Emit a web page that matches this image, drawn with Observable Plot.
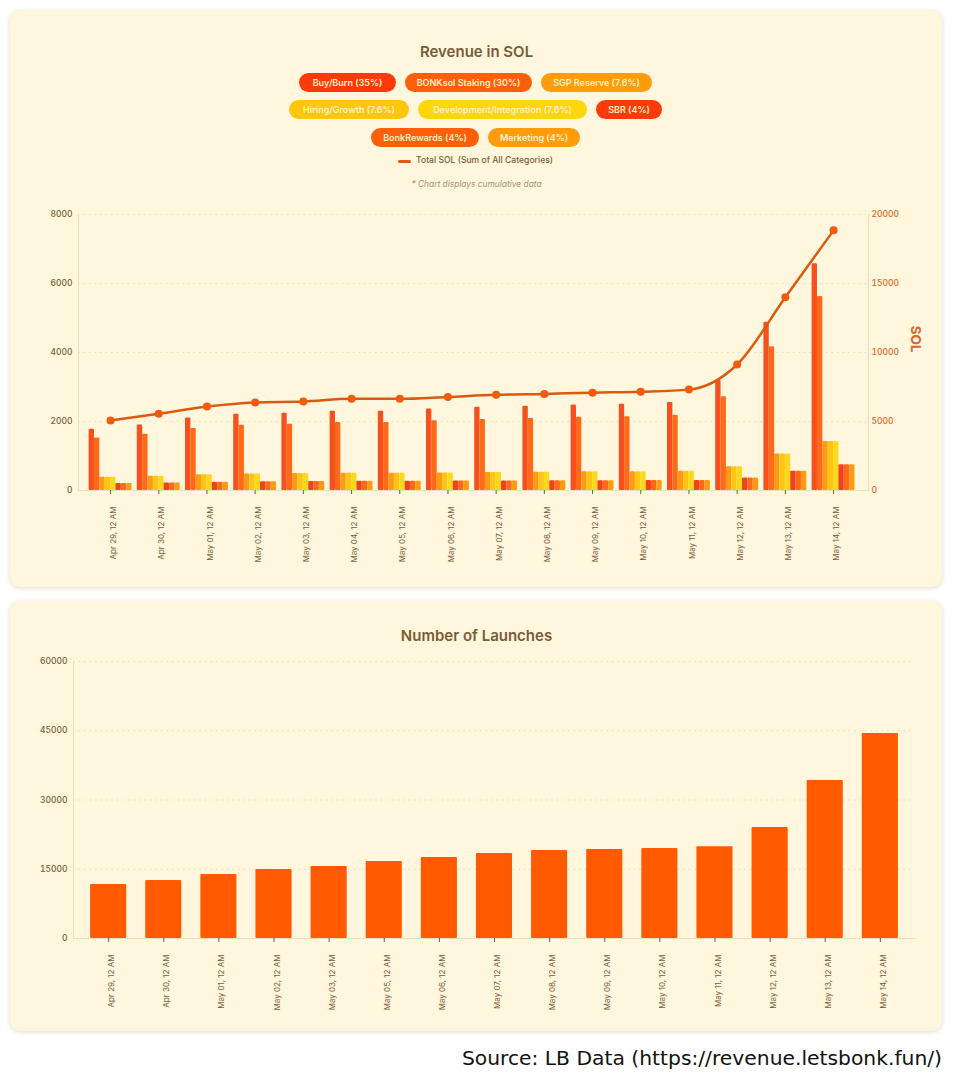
<!DOCTYPE html>
<html><head><meta charset="utf-8">
<script src="https://cdn.jsdelivr.net/npm/d3@7"></script>
<script src="https://cdn.jsdelivr.net/npm/@observablehq/plot@0.6"></script>
<style>
html,body{margin:0;padding:0;background:#fff;width:953px;height:1080px;overflow:hidden;font-family:Inter,sans-serif}
.card{position:absolute;left:10px;width:932px;background:#FEF7DD;border-radius:10px;box-shadow:0 1px 5px rgba(150,120,60,.28)}
.title{position:absolute;left:0;width:953px;text-align:center;font:600 15px Inter,sans-serif;color:#7B5B37}
.row{position:absolute;left:-1px;width:953px;display:flex;justify-content:center;gap:9px}
.pill{height:19px;border-radius:10px;text-align:center;font:600 9px/19px Inter,sans-serif;color:#FFF1C8;white-space:nowrap}
.abs{position:absolute}
svg{position:absolute;left:0;background:transparent!important}
</style></head><body>
<div class="card" style="top:10px;height:577px"></div>
<div class="card" style="top:601px;height:430px"></div>
<div class="title" style="top:42px">Revenue in SOL</div>
<div class="title" style="top:626px">Number of Launches</div>
<div id="legend"></div>
<div class="abs" style="left:398px;top:160px;width:13px;height:3px;border-radius:2px;background:#D95A10"></div>
<div class="abs" style="left:416px;top:155px;font:500 8.6px Inter,sans-serif;color:#7B5B37">Total SOL (Sum of All Categories)</div>
<div class="title" style="top:179px;font:italic 400 8.4px Inter,sans-serif;color:#A8926E">* Chart displays cumulative data</div>
<div class="abs" style="right:11px;top:1046px;font:400 20.3px 'DejaVu Sans',sans-serif;color:#111;white-space:nowrap">Source: LB Data (https://revenue.letsbonk.fun/)</div>
<script>
const dates = ["Apr 29, 12 AM","Apr 30, 12 AM","May 01, 12 AM","May 02, 12 AM","May 03, 12 AM","May 04, 12 AM","May 05, 12 AM","May 06, 12 AM","May 07, 12 AM","May 08, 12 AM","May 09, 12 AM","May 10, 12 AM","May 11, 12 AM","May 12, 12 AM","May 13, 12 AM","May 14, 12 AM"];
const buyBurn = [1775,1900,2100,2210,2240,2300,2300,2360,2410,2440,2480,2500,2550,3190,4880,6570];
const bonksol = [1520,1630,1800,1890,1920,1970,1970,2020,2060,2090,2120,2140,2180,2720,4170,5620];
const sgp = [385,415,455,480,490,500,500,510,525,530,540,545,555,690,1060,1420];
const hiring = [385,415,455,480,490,500,500,510,525,530,540,545,555,690,1060,1420];
const development = [385,415,455,480,490,500,500,510,525,530,540,545,555,690,1060,1420];
const sbr = [200,220,240,255,258,265,265,272,278,280,285,288,292,365,555,750];
const bonkRewards = [200,220,240,255,258,265,265,272,278,280,285,288,292,365,555,750];
const marketing = [200,220,240,255,258,265,265,272,278,280,285,288,292,365,555,750];
const totalSol = [5070,5560,6080,6380,6450,6640,6640,6780,6930,7000,7090,7160,7310,9130,14000,18850];
const launchDates = ["Apr 29, 12 AM","Apr 30, 12 AM","May 01, 12 AM","May 02, 12 AM","May 03, 12 AM","May 05, 12 AM","May 06, 12 AM","May 07, 12 AM","May 08, 12 AM","May 09, 12 AM","May 10, 12 AM","May 11, 12 AM","May 12, 12 AM","May 13, 12 AM","May 14, 12 AM"];
const launches = [11700,12560,13860,14950,15600,16680,17550,18410,19060,19280,19500,19900,24040,34200,44400];
const seriesValues = [buyBurn,bonksol,sgp,hiring,development,sbr,bonkRewards,marketing];
const seriesColors = ["#F4511E","#FF6A1A","#FF9A14","#FFC515","#FFD81E","#F0431C","#FF6A1A","#FF9A14"];
const legendRows = [
 [["Buy/Burn (35%)",97,"#FF3A0A"],["BONKsol Staking (30%)",127,"#FF5F0A"],["SGP Reserve (7.6%)",111,"#FF9C0C"]],
 [["Hiring/Growth (7.6%)",120,"#FFC60A"],["Development/Integration (7.6%)",169,"#FFD60A"],["SBR (4%)",66,"#FF3A0A"]],
 [["BonkRewards (4%)",108,"#FF5F0A"],["Marketing (4%)",92,"#FF9C0C"]]
];
const leftTicks = [0,2000,4000,6000,8000];
const launchTicks = [0,15000,30000,45000,60000];
const solPerRevenueUnit = 2.5;
const brown = "#7B5B37", gridC = "#E9DFBE", axisOrange = "#D9682A";

legendRows.forEach((row,ri)=>{
  const el = document.createElement("div");
  el.className = "row"; el.style.top = [73,100,128][ri]+"px";
  row.forEach(([t,w,c])=>{
    const p = document.createElement("div");
    p.className = "pill"; p.textContent = t;
    p.style.width = w+"px"; p.style.background = c;
    el.appendChild(p);
  });
  document.getElementById("legend").appendChild(el);
});

const chartStyle = {fontFamily:"Inter,sans-serif",fontSize:"8.5px",background:"transparent",overflow:"visible"};

const B = 42.9; // grouped-bar band width in pixels
const barMarks = seriesValues.map((vals,i)=>Plot.barY(dates,{
  x:d=>d, y:(d,j)=>vals[j], fill:seriesColors[i], rx:1,
  insetLeft:i*B/8, insetRight:(7-i)*B/8
}));
const xAxes = () => [
  Plot.axisX({tickSize:4,text:null,stroke:brown,label:null}),
  Plot.axisX({tickRotate:-90,tickSize:0,tickPadding:16,dx:3,fill:brown,fontSize:8,label:null,textAnchor:"end"})
];

const chart1 = Plot.plot({
  width:953, height:390, marginLeft:78, marginRight:85, marginTop:14, marginBottom:100,
  style:chartStyle,
  x:{domain:dates,type:"band",paddingInner:0.11,paddingOuter:0.25,align:0.44,round:false,label:null},
  y:{domain:[0,8000],label:null},
  marks:[
    Plot.gridY(leftTicks,{stroke:gridC,strokeOpacity:1,strokeDasharray:"1.5 4"}),
    Plot.frame({anchor:"left",stroke:gridC}),
    Plot.frame({anchor:"right",stroke:gridC}),
    Plot.frame({anchor:"bottom",stroke:gridC}),
    ...barMarks,
    Plot.line(dates,{x:d=>d,y:(d,i)=>totalSol[i]/solPerRevenueUnit,stroke:"#D95A10",strokeWidth:2.5,curve:"monotone-x"}),
    Plot.dot(dates,{x:d=>d,y:(d,i)=>totalSol[i]/solPerRevenueUnit,fill:"#F55A0A",r:4}),
    ...xAxes(),
    Plot.axisY({ticks:leftTicks,tickSize:0,tickPadding:6,fill:brown,fontWeight:500,tickFormat:d=>String(d),label:null}),
    Plot.axisY({anchor:"right",ticks:leftTicks,tickSize:0,tickPadding:3,fill:axisOrange,fontWeight:500,tickFormat:d=>String(d*solPerRevenueUnit),label:null}),
    Plot.text(["SOL"],{frameAnchor:"right",dx:47,rotate:90,fill:axisOrange,fontWeight:700,fontSize:13.5})
  ]
});
chart1.style.top = "200px";
document.body.appendChild(chart1);

const chart2 = Plot.plot({
  width:953, height:390, marginLeft:73, marginRight:38, marginTop:20, marginBottom:93,
  style:chartStyle,
  x:{domain:launchDates,type:"band",paddingInner:0.345,paddingOuter:0.31,round:false,label:null},
  y:{domain:[0,60000],label:null},
  marks:[
    Plot.gridY(launchTicks,{stroke:gridC,strokeOpacity:1,strokeDasharray:"1.5 4"}),
    Plot.frame({anchor:"left",stroke:gridC}),
    Plot.frame({anchor:"bottom",stroke:gridC}),
    Plot.barY(launchDates,{x:d=>d,y:(d,i)=>launches[i],fill:"#FF5A00",rx:1}),
    ...xAxes(),
    Plot.axisY({ticks:launchTicks,tickSize:0,tickPadding:6,fill:brown,fontWeight:500,tickFormat:d=>String(d),label:null})
  ]
});
chart2.style.top = "641px";
document.body.appendChild(chart2);
</script>
</body></html>
